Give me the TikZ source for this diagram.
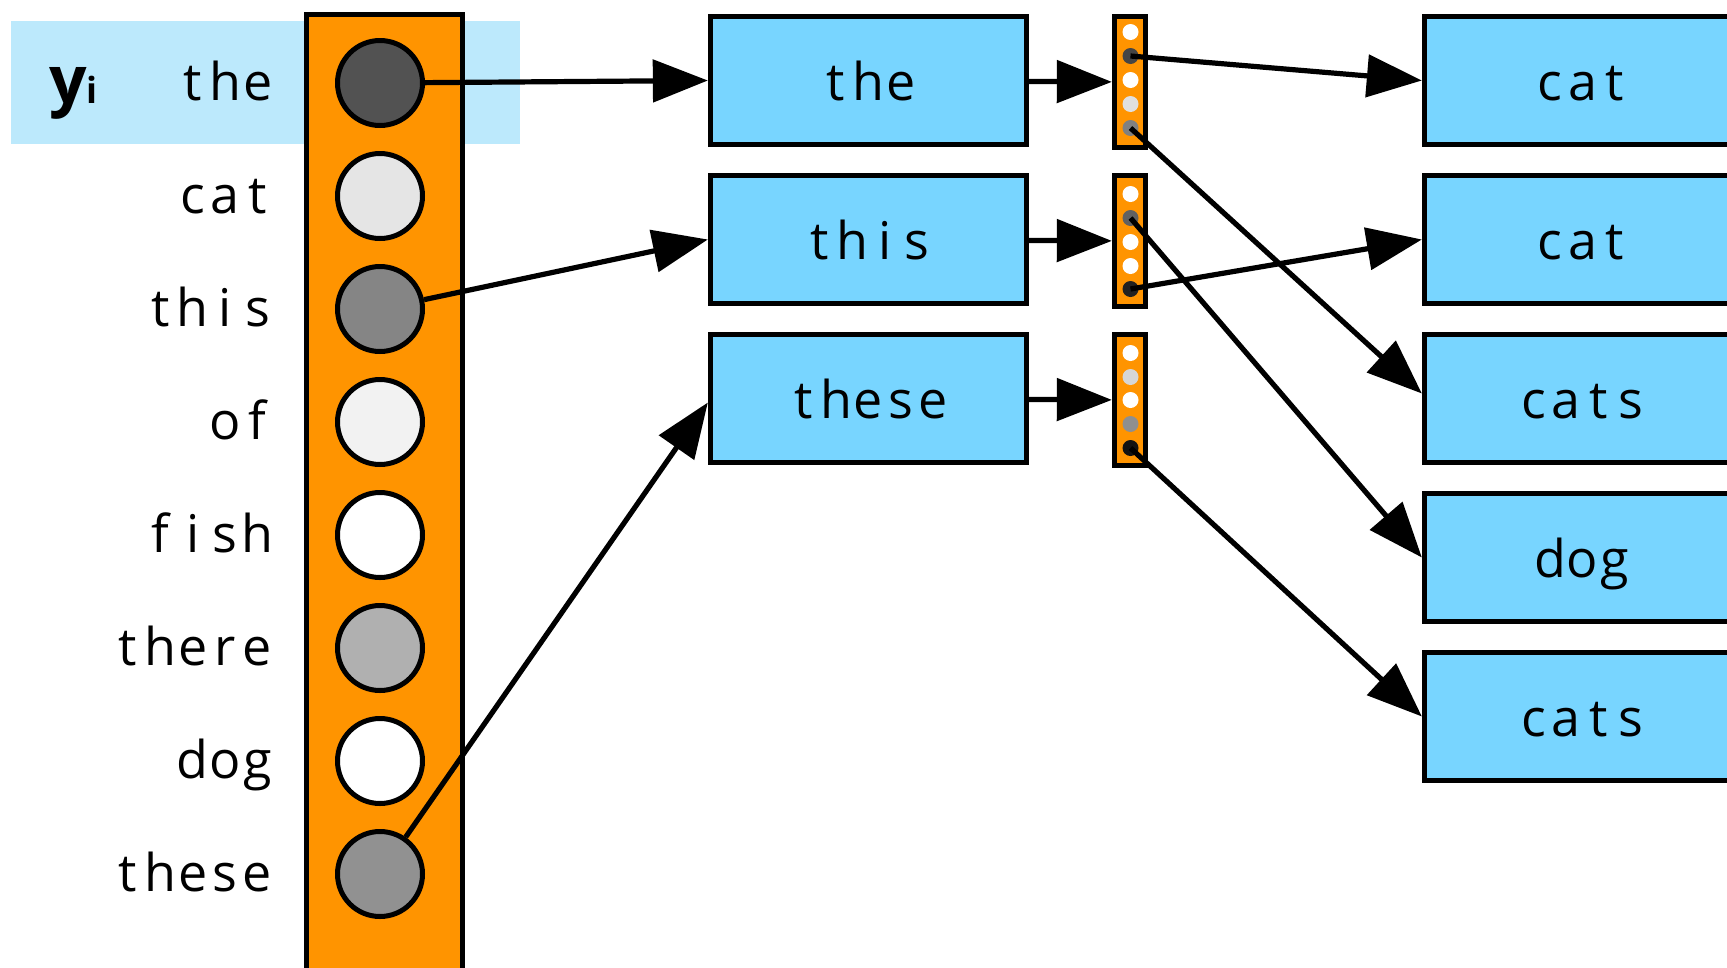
\documentclass[tikz,border=0pt]{standalone}
\usepackage{fontspec}
\usepackage{tikz}
\usetikzlibrary{arrows.meta,shapes,positioning}
\newfontfamily\wordfont{Open Sans}
\newfontfamily\headfont{Open Sans}
\definecolor{bandblue}{RGB}{188,233,252}
\definecolor{boxblue}{RGB}{120,213,255}
\definecolor{vecorange}{RGB}{255,148,0}
% every letter in a cell of its own, as on a typewriter
\makeatletter
\newcommand\cells[1]{\@tfor\ch:=#1\do{\makebox[32.4pt]{\ch}}}
\makeatother

\begin{document}
\begin{tikzpicture}[x=1pt,y=1pt]
                \tikzstyle{every node}+=[inner sep=0pt]
                \tikzstyle{word}=[font=\fontsize{52}{60}\wordfont, text height=39pt, text depth=0pt]
                \tikzstyle{unit}=[circle, draw=black, line width=5pt, minimum size=85pt]
                \tikzstyle{wordbox}=[rectangle, draw=black, line width=5.3pt, fill=boxblue, minimum width=316pt, minimum height=128pt, word]
                \tikzstyle{minivec}=[rectangle, draw=black, line width=5.3pt, fill=vecorange, minimum width=31pt, minimum height=131pt]
                \tikzstyle{minidot}=[circle, minimum size=16pt]
                \tikzstyle{link}=[line width=5.2pt, -{Triangle[length=55pt,width=42pt]}]
                \useasboundingbox (0,0) rectangle (1727,-967);
                \clip (0,0) rectangle (1727,-967);
                % output layer
                \fill [bandblue] (11,-21) rectangle (520,-144);
                \draw [black, line width=5.3pt, fill=vecorange] (306.6,-14.5) rectangle (462.4,-1000);
                \node [unit, fill=black!68] (c1) at (380,-83) {};
                \node [unit, fill=black!10] (c2) at (380,-196) {};
                \node [unit, fill=black!48] (c3) at (380,-309) {};
                \node [unit, fill=black!5] (c4) at (380,-422) {};
                \node [unit, fill=white] (c5) at (380,-535) {};
                \node [unit, fill=black!31] (c6) at (380,-648) {};
                \node [unit, fill=white] (c7) at (380,-761) {};
                \node [unit, fill=black!43] (c8) at (380,-874) {};
                \node [word, anchor=base east] (l1) at (274,-100) {\cells{the}};
                \node [word, anchor=base east] (l2) at (274,-213) {\cells{cat}};
                \node [word, anchor=base east] (l3) at (274,-326) {\cells{this}};
                \node [word, anchor=base east] (l4) at (274,-439) {\cells{of}};
                \node [word, anchor=base east] (l5) at (274,-552) {\cells{fish}};
                \node [word, anchor=base east] (l6) at (274,-665) {\cells{there}};
                \node [word, anchor=base east] (l7) at (274,-778) {\cells{dog}};
                \node [word, anchor=base east] (l8) at (274,-891) {\cells{these}};
                \node [anchor=base west, font=\fontsize{66}{70}\headfont\bfseries] (yi) at (49,-103) {y{\fontsize{36}{36}\selectfont i}};
                % selected words
                \node [wordbox] (w1) at (868.5,-80.5) {\cells{the}};
                \node [wordbox] (w2) at (868.5,-239.5) {\cells{this}};
                \node [wordbox] (w3) at (868.5,-398.5) {\cells{these}};
                % small vectors
                \node [minivec] (v1) at (1130,-82) {};
                \node [minivec] (v2) at (1130,-241) {};
                \node [minivec] (v3) at (1130,-400) {};
                \node [minidot, fill=white] (v1d1) at (1130.5,-32) {};
                \node [minidot, fill=black!73] (v1d2) at (1130.5,-56) {};
                \node [minidot, fill=white] (v1d3) at (1130.5,-80) {};
                \node [minidot, fill=black!12] (v1d4) at (1130.5,-104) {};
                \node [minidot, fill=black!50] (v1d5) at (1130.5,-128) {};
                \node [minidot, fill=white] (v2d1) at (1130.5,-194) {};
                \node [minidot, fill=black!62] (v2d2) at (1130.5,-218) {};
                \node [minidot, fill=white] (v2d3) at (1130.5,-242) {};
                \node [minidot, fill=white] (v2d4) at (1130.5,-266) {};
                \node [minidot, fill=black!87] (v2d5) at (1130.5,-289) {};
                \node [minidot, fill=white] (v3d1) at (1130.5,-353) {};
                \node [minidot, fill=black!16] (v3d2) at (1130.5,-377) {};
                \node [minidot, fill=white] (v3d3) at (1130.5,-400) {};
                \node [minidot, fill=black!44] (v3d4) at (1130.5,-424) {};
                \node [minidot, fill=black!93] (v3d5) at (1130.5,-448) {};
                % next words
                \node [wordbox] (o1) at (1582.5,-80.5) {\cells{cat}};
                \node [wordbox] (o2) at (1582.5,-239.5) {\cells{cat}};
                \node [wordbox] (o3) at (1582.5,-398.5) {\cells{cats}};
                \node [wordbox] (o4) at (1582.5,-557.5) {\cells{dog}};
                \node [wordbox] (o5) at (1582.5,-716.5) {\cells{cats}};
                % connections
                \draw [link] (c1) -- (w1.west);
                \draw [link] (c3) -- (w2.west);
                \draw [link] (c8) -- ([yshift=-4pt]w3.west);
                \draw [link] (w1) -- (v1);
                \draw [link] (w2) -- (v2);
                \draw [link] (w3) -- (v3);
                \draw [link] (v1d2.center) -- (o1.west);
                \draw [link] (v1d5.center) -- ([yshift=5pt]o3.west);
                \draw [link] (v2d2.center) -- (o4.west);
                \draw [link] (v2d5.center) -- (o2.west);
                \draw [link] (v3d5.center) -- (o5.west);
            \end{tikzpicture}
\end{document}
